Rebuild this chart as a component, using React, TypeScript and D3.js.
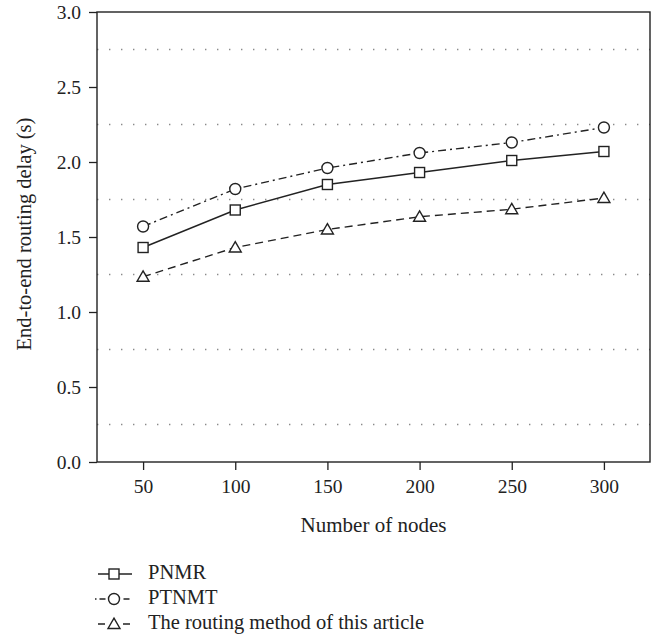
import React, { useEffect, useRef } from "react";
import * as d3 from "d3";

const nodes = [50, 100, 150, 200, 250, 300];
const pnmr = [1.43, 1.68, 1.85, 1.93, 2.01, 2.07];
const ptnmt = [1.57, 1.82, 1.96, 2.06, 2.13, 2.23];
const ours = [1.235, 1.43, 1.55, 1.635, 1.685, 1.76];
const yTicks = [0, 0.5, 1, 1.5, 2, 2.5, 3];
const gridVals = [0.25, 0.75, 1.25, 1.75, 2.25, 2.75];

const seriesList = [
  { name: "PNMR", values: pnmr, dash: null, marker: "square", legX: [98, 132], legDash: null },
  { name: "PTNMT", values: ptnmt, dash: "8 4 2 4", marker: "circle", legX: [95, 133], legDash: "1.5 3 6 18 6 100" },
  { name: "The routing method of this article", values: ours, dash: "8 5", marker: "triangle", legX: [98, 133], legDash: "7 18 7 100" },
];

const W = 658;
const H = 638;
const FONT = "'Liberation Serif', 'Times New Roman', serif";

export default function App() {
  const ref = useRef<SVGSVGElement>(null);

  useEffect(() => {
    const svg = d3.select(ref.current);
    svg.selectAll("*").remove();

    const left = 97, right = 650, top = 12, bottom = 462;
    const x = d3.scaleLinear().domain([25, 325]).range([left, right]);
    const y = d3.scaleLinear().domain([0, 3]).range([bottom, top]);

    // dotted grid
    svg.append("g").selectAll("line").data(gridVals).join("line")
      .attr("x1", left).attr("x2", right)
      .attr("y1", d => y(d)).attr("y2", d => y(d))
      .attr("stroke", "#8a8a8a").attr("stroke-width", 1.4)
      .attr("stroke-dasharray", "1.4 10.6");

    // y axis
    const ya = svg.append("g").attr("transform", `translate(${left},0)`)
      .call(d3.axisLeft(y).tickValues(yTicks).tickSize(8).tickPadding(8).tickFormat(d3.format(".1f")));
    ya.select(".domain").remove();
    ya.selectAll("line").attr("stroke", "#222").attr("stroke-width", 1.3);
    ya.selectAll("text").attr("font-family", FONT).attr("font-size", 19.5).attr("fill", "#222");

    // x axis
    const xa = svg.append("g").attr("transform", `translate(0,${bottom})`)
      .call(d3.axisBottom(x).tickValues(nodes).tickSize(8).tickPadding(9));
    xa.select(".domain").remove();
    xa.selectAll("line").attr("stroke", "#222").attr("stroke-width", 1.3);
    xa.selectAll("text").attr("font-family", FONT).attr("font-size", 19.5).attr("fill", "#222");

    // frame
    svg.append("rect").attr("x", left).attr("y", top)
      .attr("width", right - left).attr("height", bottom - top)
      .attr("fill", "none").attr("stroke", "#222").attr("stroke-width", 1.4);

    const drawMarker = (g: any, type: string, cx: number, cy: number) => {
      if (type === "square") {
        g.append("rect").attr("x", cx - 5).attr("y", cy - 5).attr("width", 10).attr("height", 10)
          .attr("fill", "#fff").attr("stroke", "#222").attr("stroke-width", 1.4);
      } else if (type === "circle") {
        g.append("circle").attr("cx", cx).attr("cy", cy).attr("r", 5.5)
          .attr("fill", "#fff").attr("stroke", "#222").attr("stroke-width", 1.4);
      } else {
        const s = d3.symbol().type(d3.symbolTriangle).size(62);
        g.append("path").attr("d", s()).attr("transform", `translate(${cx},${cy + 1})`)
          .attr("fill", "#fff").attr("stroke", "#222").attr("stroke-width", 1.4);
      }
    };

    const line = d3.line<number>().x((_, i) => x(nodes[i])).y(d => y(d));

    seriesList.forEach(s => {
      const g = svg.append("g");
      g.append("path").attr("d", line(s.values)).attr("fill", "none")
        .attr("stroke", "#222").attr("stroke-width", 1.4)
        .attr("stroke-dasharray", s.dash);
      s.values.forEach((v, i) => drawMarker(g, s.marker, x(nodes[i]), y(v)));
    });

    // axis titles
    svg.append("text").attr("x", (left + right) / 2).attr("y", 532)
      .attr("text-anchor", "middle").attr("font-family", FONT).attr("font-size", 21)
      .attr("fill", "#222").text("Number of nodes");
    svg.append("text").attr("transform", `translate(31,234) rotate(-90)`)
      .attr("text-anchor", "middle").attr("font-family", FONT).attr("font-size", 20.5)
      .attr("fill", "#222").text("End-to-end routing delay (s)");

    // legend
    seriesList.forEach((s, i) => {
      const ly = 574 + i * 25;
      const g = svg.append("g");
      g.append("line").attr("x1", s.legX[0]).attr("x2", s.legX[1]).attr("y1", ly).attr("y2", ly)
        .attr("stroke", "#222").attr("stroke-width", 1.4)
        .attr("stroke-dasharray", s.legDash);
      drawMarker(g, s.marker, 114, ly);
      g.append("text").attr("x", 148).attr("y", ly + 5).attr("font-family", FONT)
        .attr("font-size", 20.5).attr("fill", "#222").text(s.name);
    });
  }, []);

  return (
    <svg ref={ref} width={W} height={H}
      style={{ position: "absolute", left: 0, top: 0, background: "#fff" }} />
  );
}
